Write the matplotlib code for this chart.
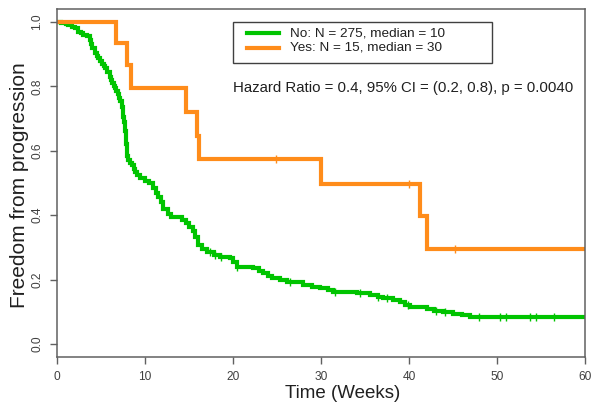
import matplotlib
matplotlib.use("Agg")
import matplotlib.pyplot as plt
from matplotlib.lines import Line2D
from matplotlib.patches import Rectangle

plt.rcParams['font.family'] = ['Liberation Sans', 'DejaVu Sans']

# ---- data ----
no_times = [0, 0.5, 1.0, 1.3, 1.7, 2.0, 2.4, 2.7, 3.0, 3.4, 3.8, 3.9, 4.0, 4.3, 4.5,
            4.7, 4.9, 5.1, 5.3, 5.45, 5.7, 6.0, 6.15, 6.3, 6.45, 6.6, 6.75, 6.9, 7.05,
            7.2, 7.35, 7.45, 7.55, 7.65, 7.72, 7.78, 7.82, 7.87, 7.93, 7.97, 8.05, 8.3,
            8.5, 8.7, 8.86, 9.1, 9.4, 10.0, 10.4, 10.9,
            11.2, 11.5, 11.8, 12.1, 12.6, 13.0, 14.2, 14.7, 15.0, 15.4, 15.7, 16.05,
            16.5, 17.0, 17.8, 18.5, 19.7, 20.0, 20.4, 22.3, 23.0, 23.4, 24.0, 24.4,
            25.3, 26.1, 28.0, 29.0, 29.9, 30.8, 31.4, 34.1, 35.6, 36.5, 37.1, 38.2,
            39.0, 39.5, 40.1, 42.0, 42.8, 43.9, 45.0, 46.0, 46.9, 60]
no_surv = [1.0, 0.998, 0.993, 0.99, 0.985, 0.98, 0.97, 0.965, 0.96, 0.955, 0.945, 0.93,
           0.92, 0.905, 0.895, 0.888, 0.878, 0.87, 0.862, 0.857, 0.843, 0.83, 0.82,
           0.81, 0.80, 0.795, 0.785, 0.775, 0.765, 0.755, 0.737, 0.72, 0.705, 0.69,
           0.675, 0.66, 0.64, 0.62, 0.60, 0.585, 0.571, 0.562, 0.556, 0.545, 0.535,
           0.525, 0.515, 0.505, 0.499, 0.484, 0.47, 0.457, 0.44, 0.42, 0.405,
           0.395, 0.385, 0.375, 0.364, 0.35, 0.333, 0.307, 0.295, 0.287, 0.278, 0.271,
           0.266, 0.255, 0.24, 0.235, 0.228, 0.22, 0.21, 0.204, 0.198, 0.193, 0.183,
           0.178, 0.173, 0.167, 0.162, 0.159, 0.152, 0.147, 0.142, 0.137, 0.131,
           0.122, 0.114, 0.108, 0.104, 0.1, 0.093, 0.089, 0.085, 0.085]
no_censor = [17.4, 18.0, 18.6, 20.5, 26.5, 31.6, 34.4, 36.5, 37.5, 39.9, 43.1, 44.1,
             48.0, 50.3, 51.0, 53.8, 54.4, 56.5]

yes_times = [0, 6.7, 8.0, 8.4, 14.7, 15.9, 16.1, 30.0, 41.2, 42.0, 60]
yes_surv = [1.0, 0.933, 0.867, 0.795, 0.72, 0.647, 0.575, 0.496, 0.398, 0.295, 0.295]
yes_censor = [24.9, 40.0, 45.2]

xticks = [0, 10, 20, 30, 40, 50, 60]
yticks = [0.0, 0.2, 0.4, 0.6, 0.8, 1.0]
legend_labels = ["No: N = 275, median = 10", "Yes: N = 15, median = 30"]
hr_text = "Hazard Ratio = 0.4, 95% CI = (0.2, 0.8), p = 0.0040"

green = '#00C400'
orange = '#FF8C1A'
axcol = '#606060'
txtcol = '#404040'

W, H = 601, 413

# ---- figure ----
fig = plt.figure(figsize=(6.01, 4.13), dpi=100)
ax = fig.add_axes([57/W, 1-357/H, 528/W, 348/H])

def surv_at(times, surv, t):
    v = surv[0]
    for ti, si in zip(times, surv):
        if ti <= t:
            v = si
    return v

ax.step(no_times, no_surv, where='post', color=green, lw=3, solid_joinstyle='miter')
ax.step(yes_times, yes_surv, where='post', color=orange, lw=3, solid_joinstyle='miter')
ax.plot(no_censor, [surv_at(no_times, no_surv, t) for t in no_censor], ls='none',
        marker='|', ms=6, mew=1, color=green)
ax.plot(yes_censor, [surv_at(yes_times, yes_surv, t) for t in yes_censor], ls='none',
        marker='|', ms=6, mew=1, color=orange)

ax.set_xlim(0, 60)
ax.set_ylim(-0.04, 1.04)
ax.set_xticks(xticks)
ax.set_yticks(yticks)
ax.set_xticklabels([str(x) for x in xticks])
ax.set_yticklabels([f"{y:.1f}" for y in yticks], rotation=90, va='center')
ax.tick_params(axis='both', length=5, width=1, color=axcol, labelcolor=txtcol,
               labelsize=8.6, pad=5)
for s in ax.spines.values():
    s.set_color(axcol)
    s.set_linewidth(1.1)

fig.text(20/W, 1-185/H, "Freedom from progression", rotation=90, fontsize=15,
         color='#202020', ha='center', va='center')
fig.text(343/W, 1-393/H, "Time (Weeks)", fontsize=13.5, color='#202020',
         ha='center', va='center')

# legend drawn in figure pixel coordinates
fig.add_artist(Rectangle((233/W, 1-63/H), (492-233)/W, (63-22)/H,
                         transform=fig.transFigure, facecolor='white',
                         edgecolor='#404040', lw=1))
for col, lab, yy in zip([green, orange], legend_labels, [33, 48]):
    fig.add_artist(Line2D([247/W, 279/W], [1-yy/H, 1-yy/H], transform=fig.transFigure,
                          color=col, lw=3))
    fig.text(290/W, 1-yy/H, lab, fontsize=9.7, color='#202020', ha='left', va='center')

ax.text((233-57)/528, (357-88)/348, hr_text, transform=ax.transAxes, fontsize=10.8,
        color='#202020', ha='left', va='center')

fig.savefig("out.png", dpi=100)
